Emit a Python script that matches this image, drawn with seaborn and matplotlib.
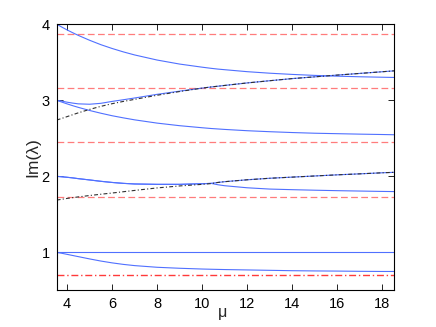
import numpy as np
import pandas as pd
import matplotlib
matplotlib.use("Agg")
import matplotlib.pyplot as plt
import seaborn as sns

# ---- data ----
mu = [3.54, 3.75, 4, 4.25, 4.5, 5, 5.5, 6, 6.5, 7, 8, 9, 10, 10.4, 10.7, 11, 12, 13, 14, 15, 16, 17, 18, 18.53]

branch_4 = [4.0, 3.965, 3.925, 3.888, 3.853, 3.789, 3.731, 3.681, 3.636, 3.596, 3.529, 3.476, 3.435, 3.42, 3.41, 3.402, 3.376, 3.356, 3.340, 3.327, 3.317, 3.309, 3.303, 3.30]
branch_3_up = [3.0, 2.99, 2.975, 2.963, 2.953, 2.948, 2.96, 2.985, 3.007, 3.03, 3.078, 3.12, 3.16, 3.175, 3.185, 3.195, 3.228, 3.257, 3.285, 3.308, 3.331, 3.353, 3.375, 3.387]
branch_3_down = [3.0, 2.978, 2.953, 2.929, 2.907, 2.866, 2.830, 2.797, 2.769, 2.743, 2.700, 2.666, 2.639, 2.629, 2.623, 2.617, 2.600, 2.587, 2.576, 2.567, 2.561, 2.555, 2.550, 2.547]
branch_2_down = [2.0, 1.995, 1.988, 1.98, 1.97, 1.953, 1.935, 1.92, 1.908, 1.90, 1.895, 1.895, 1.903, 1.908, 1.89, 1.877, 1.85, 1.833, 1.825, 1.818, 1.812, 1.807, 1.802, 1.80]
branch_2_up = [2.0, 1.995, 1.988, 1.98, 1.97, 1.953, 1.935, 1.92, 1.908, 1.90, 1.895, 1.895, 1.903, 1.908, 1.92, 1.93, 1.955, 1.975, 1.99, 2.005, 2.02, 2.033, 2.047, 2.053]
branch_1_flat = [1.0] * len(mu)
branch_1_down = [1.0, 0.99, 0.975, 0.96, 0.945, 0.915, 0.887, 0.863, 0.843, 0.827, 0.805, 0.792, 0.782, 0.779, 0.777, 0.775, 0.77, 0.765, 0.76, 0.757, 0.755, 0.752, 0.75, 0.75]

asym_upper = [2.74, 2.76, 2.785, 2.81, 2.835, 2.88, 2.92, 2.955, 2.985, 3.012, 3.066, 3.115, 3.16, 3.175, 3.185, 3.195, 3.228, 3.257, 3.285, 3.308, 3.331, 3.353, 3.375, 3.387]
asym_lower = [1.688, 1.698, 1.71, 1.72, 1.73, 1.748, 1.765, 1.781, 1.798, 1.815, 1.848, 1.874, 1.895, 1.905, 1.92, 1.93, 1.955, 1.975, 1.99, 2.005, 2.02, 2.033, 2.047, 2.053]

red_dashed_levels = [3.873, 3.162, 2.449, 1.732]
red_dashdot_level = [0.707]

x_ticks = [4, 6, 8, 10, 12, 14, 16, 18]
y_ticks = [1, 2, 3, 4]

# ---- figure ----
sns.set_theme(style="ticks")
plt.rcParams['font.family'] = ['Liberation Sans', 'DejaVu Sans']

fig = plt.figure(figsize=(4.36, 3.27), dpi=100)
ax = fig.add_axes([0.130, 0.114, 0.774, 0.812])

xlim = (mu[0], mu[-1])

blue = '#5070ff'
for lvl in red_dashed_levels:
    sns.lineplot(x=[xlim[0], xlim[1]], y=[lvl, lvl], ax=ax, color='#ff7c7c',
                 linewidth=0.9)
    ax.get_lines()[-1].set_dashes([5.4, 2.7])
for lvl in red_dashdot_level:
    sns.lineplot(x=[xlim[0], xlim[1]], y=[lvl, lvl], ax=ax, color='#ff3a3a',
                 linewidth=1.0)
    ax.get_lines()[-1].set_dashes([5, 2, 1, 2])

for ys in [branch_4, branch_3_up, branch_3_down, branch_2_down, branch_2_up,
           branch_1_flat, branch_1_down]:
    sns.lineplot(x=mu, y=ys, ax=ax, color=blue, linewidth=0.8)

for ys in [asym_upper, asym_lower]:
    sns.lineplot(x=mu, y=ys, ax=ax, color='#303030', linewidth=0.8)
    ax.get_lines()[-1].set_dashes([3.5, 2, 1, 2])

ax.set_xlim(*xlim)
ax.set_ylim(0.51, 4.0)
ax.set_xticks(x_ticks)
ax.set_yticks(y_ticks)
ax.set_xticklabels([str(t) for t in x_ticks])
ax.set_yticklabels([str(t) for t in y_ticks])
ax.tick_params(direction='in', length=4, width=0.6, top=True, right=True,
               labelsize=10.5, pad=5, colors='black')
for sp in ax.spines.values():
    sp.set_visible(True)
    sp.set_linewidth(0.8)
    sp.set_color('black')
ax.set_xlabel('')
ax.set_ylabel('Im(λ)', fontsize=12.5, labelpad=1)

fig.text(223 / 436, 1 - 313 / 327, 'μ', fontsize=11.5, ha='center', va='center')

fig.savefig('out.png', dpi=100)
